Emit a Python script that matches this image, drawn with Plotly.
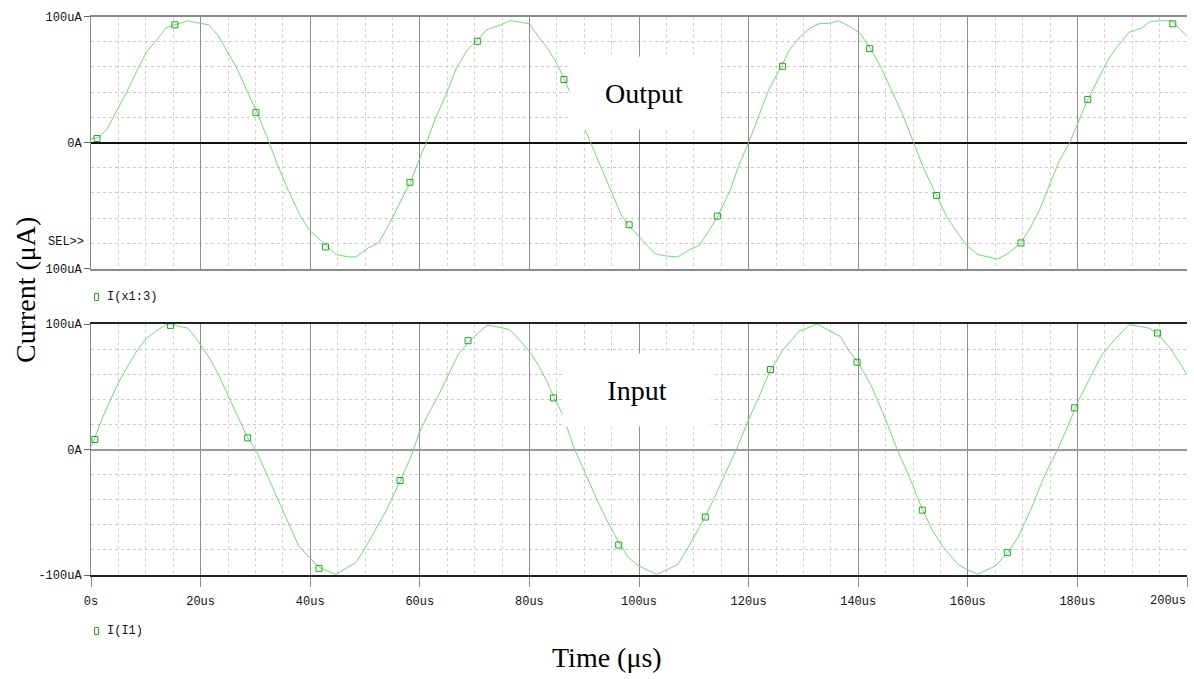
import plotly.graph_objects as go

# ---------------- data ----------------
# Output current I(x1:3)  (time in us, current in uA)
time_out = [0, 1.4, 3.0, 6.6, 8.5, 10.2, 11.8, 13.7, 15.3, 17.6, 19.8, 21.5, 23.1, 25.0, 26.6,
            28.6, 30.2, 32.5, 34.1, 36.0, 38.3, 39.9, 42.8, 44.7, 47.0, 48.3, 50.6, 52.5, 55.1,
            56.7, 58.3, 59.9, 61.2, 62.8, 64.8, 66.7, 68.7, 70.3, 72.2, 74.8, 76.4, 78.0, 80.0,
            81.6, 83.5, 85.1, 86.4, 87.7, 90.0, 91.3, 93.2, 95.2, 96.8, 98.1, 100.0,
            100.6, 102.9, 104.8, 107.1, 109.1, 111.0, 113.0, 114.3, 116.6, 118.2, 120.0, 121.8,
            123.7, 126.0, 127.3, 129.2, 131.2, 132.8, 134.8, 136.4, 138.4, 140.3, 142.3, 144.2,
            146.2, 148.1, 150.1, 152.0, 154.3, 156.2, 158.2, 159.8, 161.8, 163.7, 165.4, 167.3,
            169.6, 171.5, 173.2, 175.1, 176.7, 178.6, 180.0, 181.9, 183.9, 185.8, 187.8, 189.4,
            191.7, 193.3, 195.0, 197.2, 198.5, 200.0]
cur_out = [3.2, 3.9, 11.1, 40.8, 57.9, 72.4, 80.3, 90.8, 93.4, 96.6, 94.7, 93.4, 85.5, 71.1, 59.2,
           39.5, 25.0, 0.0, -18.4, -38.2, -59.2, -69.7, -81.6, -88.9, -90.8, -90.8, -83.7, -79.7, -59.2,
           -44.7, -31.6, -13.2, 0.0, 18.4, 38.2, 59.2, 73.7, 80.3, 89.5, 93.4, 96.6, 95.8, 94.2,
           84.2, 73.7, 61.8, 50.0, 36.8, 11.8, -1.3, -21.1, -42.1, -57.9, -65.8, -74.5,
           -77.6, -88.2, -90.0, -90.8, -85.5, -81.6, -68.4, -59.2, -38.2, -18.4, 0.0, 21.1,
           42.1, 60.5, 72.4, 82.9, 90.8, 94.2, 94.7, 96.6, 92.1, 86.8, 74.2, 59.2,
           40.8, 22.4, 0.0, -21.1, -42.1, -59.2, -72.4, -81.6, -88.9, -90.8, -92.6, -88.2,
           -80.3, -67.1, -52.6, -31.6, -14.5, 0.0, 14.5, 34.2, 51.3, 67.1, 78.9, 87.4,
           90.8, 96.1, 96.6, 96.6, 90.8, 84.2]

# Input current I(I1)
time_in = [0.1, 0.8, 2.1, 3.7, 5.3, 6.9, 8.5, 10.2, 11.8, 13.7, 14.7, 16.0, 17.6, 18.9, 20.5,
           21.8, 23.4, 25.0, 26.6, 28.6, 30.2, 31.8, 33.7, 35.7, 37.9, 39.9, 41.8, 43.1, 44.7,
           46.7, 48.3, 49.9, 51.8, 53.8, 56.4, 58.3, 59.9, 61.5, 63.5, 65.1, 67.0, 69.0, 70.6,
           72.2, 73.8, 75.1, 76.4, 78.4, 80.0, 81.6, 83.2, 84.5, 86.1, 88.0, 90.0, 91.9, 93.9,
           96.5, 98.1, 100.0, 101.3, 103.2, 105.2, 107.1, 109.1, 112.0, 114.3, 116.2, 117.9,
           120.0, 121.8, 124.0, 126.3, 129.2, 132.5, 134.4, 136.7, 138.4, 140.0, 142.3, 144.9,
           147.1, 149.4, 151.7, 153.6, 155.6, 158.2, 159.8, 161.8, 165.0, 167.3, 169.3, 171.5,
           174.1, 176.4, 178.4, 180.0, 182.3, 184.5, 186.8, 189.4, 191.4, 193.0, 194.6, 196.9,
           198.5, 200.0]
cur_in = [2.7, 10.6, 25.2, 41.1, 55.7, 67.6, 79.6, 88.9, 94.2, 99.5, 100.0, 98.1, 96.8, 90.2, 79.6,
          71.6, 58.4, 43.8, 27.9, 9.3, -1.3, -17.2, -35.8, -54.4, -76.9, -86.2, -94.2, -96.8, -99.5,
          -94.2, -90.2, -79.6, -65.0, -49.1, -25.2, -6.6, 13.3, 27.9, 43.8, 58.4, 75.6, 86.2, 92.8,
          98.9, 98.1, 96.8, 95.5, 86.2, 78.2, 67.6, 54.4, 41.1, 27.9, 2.7, -17.2, -35.8, -54.4,
          -75.6, -86.2, -92.8, -95.5, -99.5, -95.5, -91.5, -76.9, -54.4, -33.2, -14.6, 1.3,
          23.9, 41.1, 63.7, 79.6, 94.2, 100.0, 95.5, 90.2, 78.2, 69.0, 51.7, 25.2,
          0.0, -22.5, -47.7, -65.0, -78.2, -91.5, -95.5, -99.5, -92.8, -82.2, -69.0, -47.7,
          -19.9, 0.0, 19.9, 37.1, 57.0, 75.6, 87.5, 99.5, 98.1, 96.8, 92.8, 80.9,
          70.3, 59.7]

# PSpice symbol markers on the traces
mark_out_t = [1.1, 15.3, 30.1, 42.8, 58.2, 70.5, 86.3, 98.2, 114.3, 126.2, 142.1, 154.3, 169.7, 181.9, 197.4]
mark_out_v = [3.2, 93.4, 23.7, -82.9, -31.6, 80.3, 50.0, -65.3, -58.4, 60.5, 74.5, -42.1, -79.7, 34.2, 94.2]
mark_in_t = [0.7, 14.5, 28.6, 41.6, 56.4, 68.8, 84.4, 96.3, 112.1, 124.0, 139.8, 151.7, 167.2, 179.5, 194.6]
mark_in_v = [8.0, 98.9, 9.3, -94.7, -24.7, 86.7, 41.1, -76.1, -53.8, 63.7, 69.5, -48.3, -82.2, 33.2, 92.8]

x_tick_vals = [0, 20, 40, 60, 80, 100, 120, 140, 160, 180, 200]
x_tick_text = ["0s", "20us", "40us", "60us", "80us", "100us", "120us", "140us", "160us", "180us", "200us"]
y_tick_vals = [-100, 0, 100]
y_tick_text_top = ["100uA", "0A", "100uA"]
y_tick_text_bot = ["-100uA", "0A", "100uA"]

# ---------------- layout helpers ----------------
W, H = 1194, 679
def px(x):
    return x / W
def py(y):
    return 1 - y / H

X0, X1 = 91, 1187
TOP = (16.5, 268.5)
BOT = (324, 575)

LINE_C = "#74d874"
MARK_C = "#22a822"
MONO = "Liberation Mono"
SERIF = "Liberation Serif"

fig = go.Figure()
fig.add_trace(go.Scatter(x=time_out, y=cur_out, mode="lines", line=dict(color=LINE_C, width=1),
                         xaxis="x", yaxis="y", name="I(x1:3)"))
fig.add_trace(go.Scatter(x=mark_out_t, y=mark_out_v, mode="markers",
                         marker=dict(symbol="square-open", size=6, color=MARK_C, line=dict(width=1, color=MARK_C)),
                         xaxis="x", yaxis="y", name="I(x1:3) markers"))
fig.add_trace(go.Scatter(x=time_in, y=cur_in, mode="lines", line=dict(color=LINE_C, width=1),
                         xaxis="x2", yaxis="y2", name="I(I1)"))
fig.add_trace(go.Scatter(x=mark_in_t, y=mark_in_v, mode="markers",
                         marker=dict(symbol="square-open", size=6, color=MARK_C, line=dict(width=1, color=MARK_C)),
                         xaxis="x2", yaxis="y2", name="I(I1) markers"))

minor_x = dict(tickmode="linear", tick0=0, dtick=5, showgrid=True, gridcolor="#d2d2d2",
               griddash="dot", gridwidth=1, ticks="")
minor_y = dict(tickmode="linear", tick0=0, dtick=20, showgrid=True, gridcolor="#cacaca",
               griddash="dot", gridwidth=1, ticks="")

# last x label is right-aligned at the plot edge (as in the reference), drawn as annotation
x_tick_text_axis = x_tick_text[:-1] + [""]

common_x = dict(range=[0, 200], tickmode="array", tickvals=x_tick_vals, ticktext=x_tick_text_axis,
                showgrid=True, gridcolor="#8e8e8e", gridwidth=1, zeroline=False,
                showline=True, mirror=True, minor=minor_x, fixedrange=True, automargin=False,
                tickfont=dict(family=MONO, size=12, color="#111"))
common_y = dict(range=[-100, 100], tickmode="array", tickvals=y_tick_vals,
                showgrid=False, zeroline=True, showline=True, linecolor="#8a8a8a", linewidth=1,
                ticks="outside", ticklen=6, tickcolor="#666", minor=minor_y, fixedrange=True,
                automargin=False, tickfont=dict(family=MONO, size=12, color="#111"))

fig.update_layout(
    width=W, height=H, autosize=False,
    margin=dict(l=0, r=0, t=0, b=0, pad=0, autoexpand=False),
    plot_bgcolor="white", paper_bgcolor="white",
    showlegend=False,
    xaxis=dict(common_x, domain=[px(X0), px(X1)], anchor="y", showticklabels=False, ticks="",
               linecolor="#8a8a8a", linewidth=2),
    yaxis=dict(common_y, domain=[py(TOP[1]), py(TOP[0])], anchor="x", ticktext=y_tick_text_top,
               zerolinecolor="#111", zerolinewidth=1.5),
    xaxis2=dict(common_x, domain=[px(X0), px(X1)], anchor="y2", showticklabels=True,
                ticks="outside", ticklen=10, tickcolor="#8e8e8e", linecolor="#222", linewidth=1.5,
                ticklabelstandoff=4),
    yaxis2=dict(common_y, domain=[py(BOT[1]), py(BOT[0])], anchor="x2", ticktext=y_tick_text_bot,
                zerolinecolor="#9a9a9a", zerolinewidth=2),
)

annotations = [
    dict(text="Output", x=px(644), y=py(93), xref="paper", yref="paper", showarrow=False,
         xanchor="center", yanchor="middle", bgcolor="white", width=146, height=70,
         font=dict(family=SERIF, size=28, color="black")),
    dict(text="Input", x=px(637), y=py(390), xref="paper", yref="paper", showarrow=False,
         xanchor="center", yanchor="middle", bgcolor="white", width=146, height=70,
         font=dict(family=SERIF, size=28, color="black")),
    dict(text=x_tick_text[-1], x=px(1188), y=py(601), xref="paper", yref="paper", showarrow=False,
         xanchor="right", yanchor="middle", font=dict(family=MONO, size=12, color="#111")),
    dict(text="SEL>>", x=px(86), y=py(242), xref="paper", yref="paper", showarrow=False,
         xanchor="right", yanchor="middle", font=dict(family=MONO, size=12, color="#111")),
    dict(text="I(x1:3)", x=px(105), y=py(297), xref="paper", yref="paper", showarrow=False,
         xanchor="left", yanchor="middle", font=dict(family=MONO, size=12, color="#111")),
    dict(text="I(I1)", x=px(105), y=py(631), xref="paper", yref="paper", showarrow=False,
         xanchor="left", yanchor="middle", font=dict(family=MONO, size=12, color="#111")),
    dict(text="Current (μA)", x=px(25), y=py(290), xref="paper", yref="paper", showarrow=False,
         xanchor="center", yanchor="middle", textangle=-90,
         font=dict(family=SERIF, size=28, color="black")),
    dict(text="Time (μs)", x=px(607), y=py(657), xref="paper", yref="paper", showarrow=False,
         xanchor="center", yanchor="middle",
         font=dict(family=SERIF, size=28, color="black")),
]
fig.update_layout(annotations=annotations)

shapes = [
    dict(type="rect", xref="paper", yref="paper", x0=px(94.5), x1=px(98.5), y0=py(300.5), y1=py(293.5),
         line=dict(color=MARK_C, width=1), fillcolor="rgba(0,0,0,0)"),
    dict(type="rect", xref="paper", yref="paper", x0=px(94.5), x1=px(98.5), y0=py(634.5), y1=py(627.5),
         line=dict(color=MARK_C, width=1), fillcolor="rgba(0,0,0,0)"),
]
fig.update_layout(shapes=shapes)

fig.write_html("out.html")
